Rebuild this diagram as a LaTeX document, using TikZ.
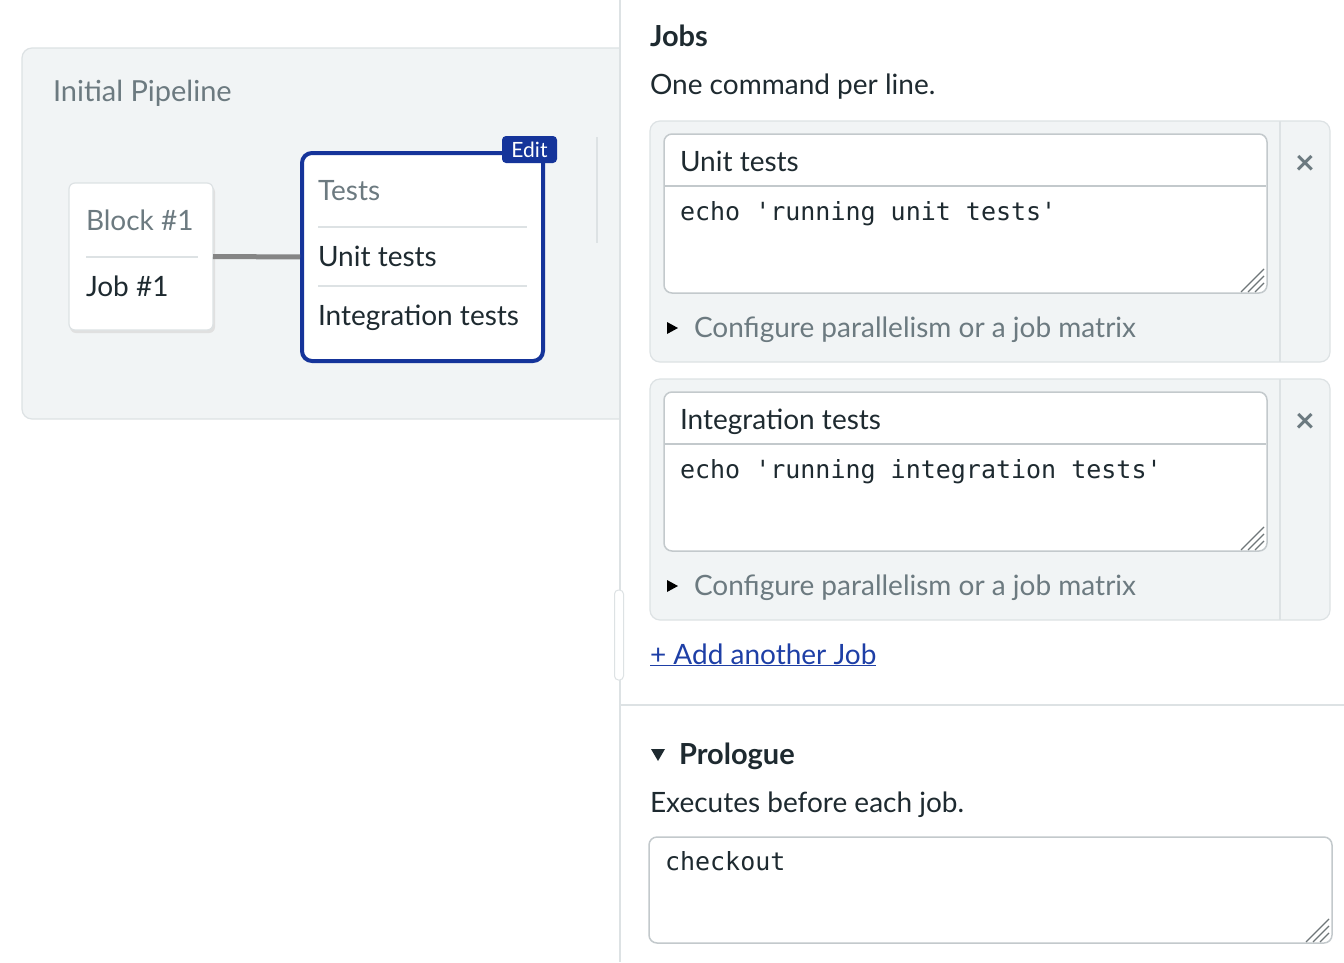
\documentclass[tikz,border=0pt]{standalone}
\usepackage{fontspec}
\setmainfont{Lato}
\setmonofont{DejaVu Sans Mono}
\usetikzlibrary{positioning}

\definecolor{panel}{HTML}{F1F4F5}
\definecolor{edge}{HTML}{DDE2E4}
\definecolor{fieldedge}{HTML}{C3C9CC}
\definecolor{ink}{HTML}{1E2A30}
\definecolor{muted}{HTML}{6C7A80}
\definecolor{brand}{HTML}{15349A}
\definecolor{wire}{HTML}{858585}
\definecolor{link}{HTML}{1E3FA6}
\definecolor{gripc}{HTML}{6F7679}

\newcommand{\resizegrip}[2]{%
  \begin{scope}[shift={(#1,#2)}]
    \foreach \k in {0,7,14} {\draw[grip] (-3,-24+\k) -- (-26+\k,-1);}
  \end{scope}}

\begin{document}
\begin{tikzpicture}[x=1pt,y=-1pt,
  every node/.style={inner sep=0pt, outer sep=0pt},
  label/.style={anchor=base west, font=\fontsize{28}{32}\selectfont},
  muted/.style={label, text=muted},
  plain/.style={label, text=ink},
  heading/.style={label, text=ink, font=\fontsize{29}{32}\selectfont\bfseries},
  code/.style={anchor=base west, font=\fontsize{25}{30}\selectfont\ttfamily, text=ink},
  card/.style={draw=edge, fill=panel, line width=1.2pt, rounded corners=10pt},
  field/.style={draw=fieldedge, fill=white, line width=1.5pt, rounded corners=8pt},
  box/.style={draw=edge, fill=white, line width=1.2pt, rounded corners=6pt, anchor=north west},
  rule/.style={draw=edge, line width=1.2pt},
  grip/.style={draw=gripc, line width=1.3pt}]

\useasboundingbox (0,0) rectangle (1344,962);
\fill[white] (0,0) rectangle (1344,962);

% pipeline view
\path[card] (22,48) rectangle (660,419);
\node[muted, font=\fontsize{29}{32}\selectfont] (pipeline) at (53,101) {Initial Pipeline};

\fill[black!12, rounded corners=6pt] (70,186) rectangle (215,333);
\node[box, minimum width=144pt, minimum height=147pt] (block) at (69,183) {};
\node[muted] (blockname) at (86,230) {Block \#1};
\draw[rule] (86,257) -- (198,257);
\node[plain] (job1) at (86,296) {Job \#1};

\node[box, draw=brand, line width=4pt, rounded corners=10pt,
      minimum width=241pt, minimum height=208pt] (tests) at (302,153) {};
\draw[wire, line width=5pt, shorten >=2pt] (block.east) -- (tests.west);
\node[muted] (testsname) at (318,200) {Tests};
\draw[rule] (318,227) -- (527,227);
\node[plain] (unit) at (318,266) {Unit tests};
\draw[rule] (318,286) -- (527,286);
\node[plain] (integration) at (318,325) {Integration tests};
\node[fill=brand, text=white, rounded corners=4pt, minimum width=55pt, minimum height=27pt,
      font=\fontsize{21}{24}\selectfont] (edit) at (529.5,149.5) {Edit};
\draw[rule] (597,137) -- (597,243);

% editor panel
\fill[white] (620,0) rectangle (1344,962);
\draw[rule] (620,0) -- (620,962);
\draw[rule] (620,705) -- (1344,705);
\node[draw=edge, fill=white, line width=1pt, rounded corners=4pt,
      minimum width=9pt, minimum height=90pt] (handle) at (619,635) {};

\node[heading] (jobs) at (650,46) {Jobs};
\node[plain] (hint) at (650,94) {One command per line.};

\foreach \i/\dy/\jobname/\cmd in {1/0/Unit tests/echo 'running unit tests',
                                  2/258/Integration tests/echo 'running integration tests'} {
  \node[card, minimum width=680pt, minimum height=241pt, anchor=north west] (jobcard\i) at (650,121+\dy) {};
  \draw[rule] (1280,121+\dy) -- (1280,362+\dy);
  \node[text=muted, font=\fontsize{34}{34}\selectfont\bfseries] (remove\i) at (1305,165+\dy) {×};
  \node[field, minimum width=603pt, minimum height=159pt, anchor=north west] (field\i) at (664,134+\dy) {};
  \draw[fieldedge, line width=1.5pt] (665,186+\dy) -- (1266,186+\dy);
  \node[plain] (jobtitle\i) at (680,171+\dy) {\jobname};
  \node[code] (command\i) at (680,220+\dy) {\cmd};
  \resizegrip{1267}{293+\dy}
  \fill[muted] (667,322+\dy) -- (678,328+\dy) -- (667,334+\dy) -- cycle;
  \node[muted] (configure\i) at (694,337+\dy) {Configure parallelism or a job matrix};
}

\node[label, text=link] (addjob) at (650,664) {\underline{+ Add another Job}};

\fill[ink] (651,749) -- (665,749) -- (658,761) -- cycle;
\node[heading] (prologue) at (679,764) {Prologue};
\node[plain] (prologuehint) at (650,812) {Executes before each job.};
\node[field, minimum width=683pt, minimum height=106pt, anchor=north west] (prologuefield) at (649,837) {};
\node[code] (checkout) at (665,870) {checkout};
\resizegrip{1332}{943}
\end{tikzpicture}
\end{document}
